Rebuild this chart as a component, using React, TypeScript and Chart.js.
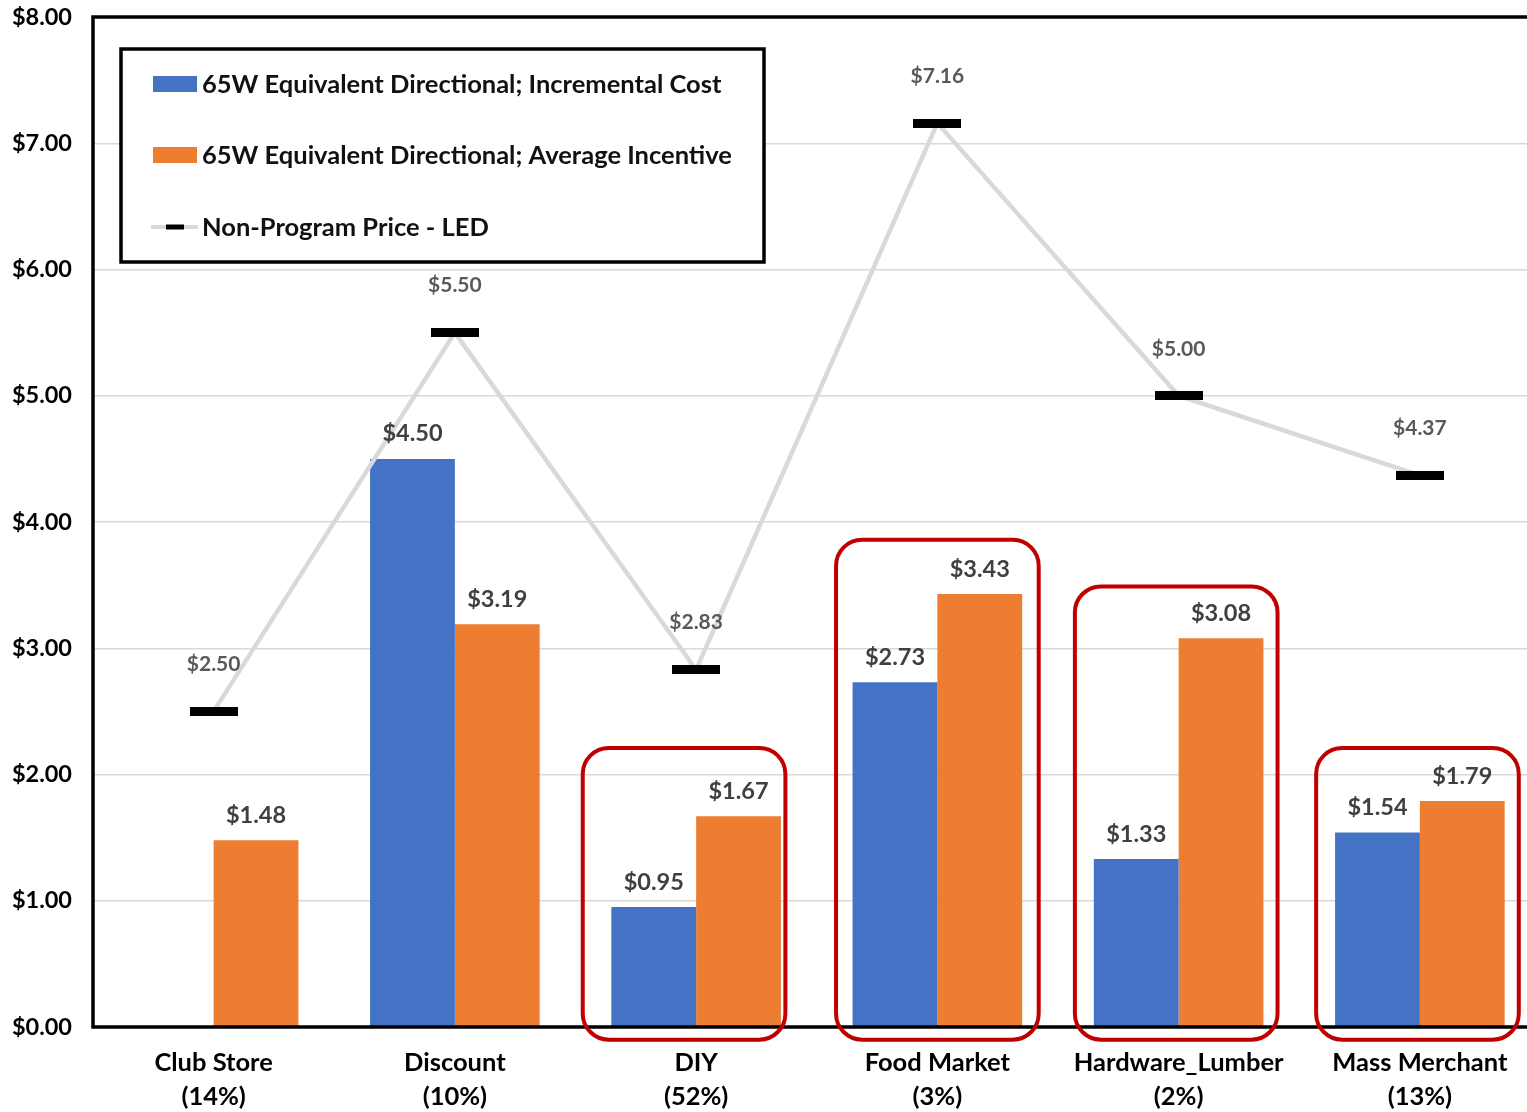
import React, { useEffect, useRef } from "react";
import { Chart, registerables } from "chart.js";

Chart.register(...registerables);

const categories: string[][] = [
  ["Club Store", "(14%)"],
  ["Discount", "(10%)"],
  ["DIY", "(52%)"],
  ["Food Market", "(3%)"],
  ["Hardware_Lumber", "(2%)"],
  ["Mass Merchant", "(13%)"],
];
const incrementalCost: (number | null)[] = [null, 4.5, 0.95, 2.73, 1.33, 1.54];
const averageIncentive: number[] = [1.48, 3.19, 1.67, 3.43, 3.08, 1.79];
const nonProgramPrice: number[] = [2.5, 5.5, 2.83, 7.16, 5.0, 4.37];
const yTicks: number[] = [0, 1, 2, 3, 4, 5, 6, 7, 8];

const seriesNames = [
  "65W Equivalent Directional; Incremental Cost",
  "65W Equivalent Directional; Average Incentive",
  "Non-Program Price - LED",
];

// highlighted groups (red rounded boxes): category index, top value, bottom value, center shift (category units)
const highlightIndex: number[] = [2, 3, 4, 5];
const highlightTop: number[] = [2.21, 3.86, 3.49, 2.21];
const highlightBottom: number[] = [-0.1, -0.1, -0.1, -0.1];
const highlightShift: number[] = [-0.05, 0, -0.01, -0.01];

const BLUE = "#4472C4";
const ORANGE = "#ED7D31";
const FONT = "Lato, 'Open Sans', sans-serif";

function makeMarker(): HTMLCanvasElement {
  const c = document.createElement("canvas");
  c.width = 48;
  c.height = 9;
  const ctx = c.getContext("2d")!;
  ctx.fillStyle = "#000";
  ctx.fillRect(0, 0, 48, 9);
  return c;
}

const overlayPlugin = {
  id: "overlay",
  afterDatasetsDraw(chart: any) {
    const ctx: CanvasRenderingContext2D = chart.ctx;
    const area = chart.chartArea;
    const yScale = chart.scales.y;
    const xScale = chart.scales.x;
    ctx.save();
    // value labels on bars
    ctx.textAlign = "center";
    ctx.textBaseline = "middle";
    ctx.font = `bold 23.5px ${FONT}`;
    ctx.fillStyle = "#404040";
    [0, 1].forEach((di) => {
      const meta = chart.getDatasetMeta(di);
      const data = chart.data.datasets[di].data;
      meta.data.forEach((el: any, i: number) => {
        const v = data[i];
        if (v === null || v === undefined) return;
        ctx.fillText("$" + Number(v).toFixed(2), el.x, el.y - 25);
      });
    });
    // labels on line
    ctx.font = `bold 21px ${FONT}`;
    ctx.fillStyle = "#595959";
    const lmeta = chart.getDatasetMeta(2);
    lmeta.data.forEach((el: any, i: number) => {
      ctx.fillText("$" + nonProgramPrice[i].toFixed(2), el.x, el.y - 47);
    });
    // frame
    ctx.strokeStyle = "#000";
    ctx.lineWidth = 3.5;
    ctx.strokeRect(area.left, area.top, area.right - area.left, area.bottom - area.top);
    // red highlight boxes
    const catW = (area.right - area.left) / categories.length;
    ctx.strokeStyle = "#C00000";
    ctx.lineWidth = 4;
    highlightIndex.forEach((ci, k) => {
      const cx = xScale.getPixelForValue(ci) + highlightShift[k] * catW;
      const half = 0.42 * catW;
      const top = yScale.getPixelForValue(highlightTop[k]);
      const bottom = yScale.getPixelForValue(highlightBottom[k]);
      ctx.beginPath();
      (ctx as any).roundRect(cx - half, top, half * 2, bottom - top, 26);
      ctx.stroke();
    });
    // legend
    const lx = 121, ly = 49, lw = 643, lh = 213;
    ctx.fillStyle = "#fff";
    ctx.fillRect(lx, ly, lw, lh);
    ctx.strokeStyle = "#000";
    ctx.lineWidth = 3.5;
    ctx.strokeRect(lx, ly, lw, lh);
    ctx.textAlign = "left";
    ctx.font = `bold 25.5px ${FONT}`;
    const rows = [84, 155, 227];
    ctx.fillStyle = BLUE;
    ctx.fillRect(153, rows[0] - 8, 44, 16);
    ctx.fillStyle = ORANGE;
    ctx.fillRect(153, rows[1] - 8, 44, 16);
    ctx.strokeStyle = "#d9d9d9";
    ctx.lineWidth = 4;
    ctx.beginPath();
    ctx.moveTo(151, rows[2]);
    ctx.lineTo(198, rows[2]);
    ctx.stroke();
    ctx.fillStyle = "#000";
    ctx.fillRect(166, rows[2] - 2.5, 18, 5);
    ctx.fillStyle = "#111";
    seriesNames.forEach((n, i) => ctx.fillText(n, 202, rows[i] + 1));
    ctx.restore();
  },
};

export default function App() {
  const ref = useRef<HTMLCanvasElement>(null);
  useEffect(() => {
    if (!ref.current) return;
    const marker = makeMarker();
    const chart = new Chart(ref.current, {
      type: "bar",
      data: {
        labels: categories as any,
        datasets: [
          {
            type: "bar",
            label: seriesNames[0],
            data: incrementalCost as any,
            backgroundColor: BLUE,
            barPercentage: 1,
            categoryPercentage: 0.703,
            order: 1,
          },
          {
            type: "bar",
            label: seriesNames[1],
            data: averageIncentive,
            backgroundColor: ORANGE,
            barPercentage: 1,
            categoryPercentage: 0.703,
            order: 1,
          },
          {
            type: "line",
            label: seriesNames[2],
            data: nonProgramPrice,
            borderColor: "#d9d9d9",
            borderWidth: 4.5,
            tension: 0,
            pointStyle: marker as any,
            pointRadius: 10,
            order: 0,
          } as any,
        ],
      },
      options: {
        responsive: false,
        animation: false,
        layout: { padding: { top: 17, left: 0, right: 0, bottom: 0 } },
        plugins: {
          legend: { display: false },
          tooltip: { enabled: false },
        },
        scales: {
          x: {
            grid: { display: false },
            border: { display: false },
            ticks: {
              color: "#000",
              font: { family: FONT, size: 25.5, weight: "bold", lineHeight: 1.33 },
              padding: 11,
              maxRotation: 0,
              autoSkip: false,
            },
            afterFit(scale: any) {
              scale.height = 85;
              scale.paddingLeft = 0;
              scale.paddingRight = 0;
            },
          },
          y: {
            min: 0,
            max: 8,
            afterBuildTicks(scale: any) {
              scale.ticks = yTicks.map((v) => ({ value: v }));
            },
            grid: { color: "#d9d9d9", lineWidth: 1.5, drawTicks: false },
            border: { display: false },
            ticks: {
              color: "#000",
              font: { family: FONT, size: 23.5, weight: "bold" },
              padding: 21,
              callback: (v: any) => "$" + Number(v).toFixed(2),
            },
            afterFit(scale: any) {
              scale.width = 93;
              scale.paddingTop = 0;
              scale.paddingBottom = 0;
            },
          },
        },
      },
      plugins: [overlayPlugin],
    });
    return () => chart.destroy();
  }, []);
  return (
    <div style={{ position: "absolute", left: 0, top: 0, width: 1527, height: 1112, overflow: "hidden", background: "#fff" }}>
      <div style={{ position: "relative", width: 1555, height: 1112 }}>
        <canvas ref={ref} width={1555} height={1112} style={{ width: 1555, height: 1112, display: "block" }} />
      </div>
    </div>
  );
}
